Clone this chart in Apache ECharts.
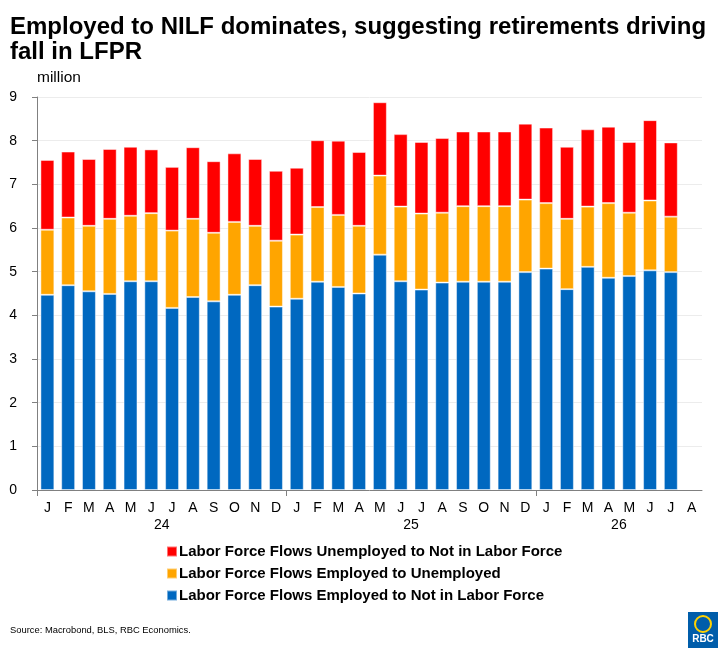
<!doctype html>
<html lang="en">
    <head>
        <meta charset="UTF-8" />
        <title>Labor force flows</title>
        <script src="https://cdn.jsdelivr.net/npm/echarts@6.0.0/dist/echarts.min.js"></script>
        <style>
            body { margin: 0; background: #fff; }
        </style>
    </head>
    <body>
        <!-- Chart container -->
        <div id="main" style="width: 726px; height: 656px"></div>

        <script>
            // Month labels, Jan 2024 .. Aug 2026
            const months = [
                "J", "F", "M", "A", "M", "J", "J", "A", "S", "O", "N", "D",
                "J", "F", "M", "A", "M", "J", "J", "A", "S", "O", "N", "D",
                "J", "F", "M", "A", "M", "J", "J", "A",
            ];
            const yearLabels = ["24", "25", "26"];
            const yearLabelPos = [6, 18, 28];
            const yearBreaks = [0, 12, 24];

            // million (Aug 2026 has no data)
            const empToNilf = [
                4.47, 4.69, 4.55, 4.49, 4.78, 4.78, 4.17, 4.42, 4.32, 4.47, 4.69, 4.20,
                4.38, 4.77, 4.65, 4.50, 5.39, 4.78, 4.59, 4.75, 4.77, 4.77, 4.77, 4.99,
                5.07, 4.60, 5.11, 4.86, 4.90, 5.03, 4.99, null,
            ];
            const empToUnemp = [
                1.49, 1.55, 1.50, 1.72, 1.50, 1.56, 1.77, 1.79, 1.57, 1.67, 1.36, 1.51,
                1.47, 1.71, 1.65, 1.55, 1.81, 1.71, 1.74, 1.60, 1.73, 1.73, 1.73, 1.66,
                1.50, 1.61, 1.38, 1.71, 1.45, 1.60, 1.27, null,
            ];
            const unempToNilf = [
                1.60, 1.51, 1.53, 1.60, 1.58, 1.46, 1.46, 1.64, 1.64, 1.57, 1.53, 1.60,
                1.53, 1.53, 1.70, 1.69, 1.68, 1.66, 1.64, 1.71, 1.71, 1.71, 1.71, 1.74,
                1.73, 1.65, 1.77, 1.75, 1.62, 1.84, 1.70, null,
            ];

            const font = "Arial, 'Liberation Sans', sans-serif";
            const names = [
                "Labor Force Flows Employed to Not in Labor Force",
                "Labor Force Flows Employed to Unemployed",
                "Labor Force Flows Unemployed to Not in Labor Force",
            ];

            const myChart = echarts.init(document.getElementById("main"));

            const barStyle = (color) => ({
                color: color,
                borderColor: "rgba(255,255,255,0.45)",
                borderWidth: 1,
            });

            const options = {
                animation: false,
                textStyle: { fontFamily: font },
                title: {
                    text: "Employed to NILF dominates, suggesting retirements driving\nfall in LFPR",
                    left: 5,
                    top: 10,
                    textStyle: {
                        fontFamily: font,
                        fontSize: 24,
                        fontWeight: "bold",
                        lineHeight: 25,
                        color: "#000",
                    },
                },
                legend: {
                    orient: "vertical",
                    left: 161,
                    top: 538,
                    itemWidth: 10,
                    itemHeight: 10,
                    itemGap: 5,
                    icon: "rect",
                    data: [names[2], names[1], names[0]],
                    textStyle: {
                        fontFamily: font,
                        fontSize: 15,
                        fontWeight: "bold",
                        color: "#000",
                        lineHeight: 17,
                        padding: [0, 0, 0, -3],
                    },
                },
                grid: {
                    left: 37,
                    right: 24,
                    top: 97,
                    bottom: 166,
                    containLabel: false,
                },
                xAxis: [
                    {
                        type: "category",
                        data: months,
                        position: "bottom",
                        axisLine: { lineStyle: { color: "#808080" } },
                        axisTick: { interval: 0, length: 3, lineStyle: { color: "#808080" } },
                        axisLabel: {
                            interval: 0,
                            margin: 11,
                            fontSize: 14,
                            color: "#000",
                        },
                    },
                    {
                        type: "value",
                        min: 0,
                        max: 32,
                        position: "bottom",
                        axisLine: { show: false },
                        splitLine: { show: false },
                        axisTick: {
                            customValues: yearBreaks,
                            length: 6,
                            lineStyle: { color: "#808080" },
                        },
                        axisLabel: {
                            customValues: yearLabelPos,
                            formatter: (v) => yearLabels[yearLabelPos.indexOf(v)] || "",
                            margin: 28,
                            fontSize: 14,
                            color: "#000",
                        },
                    },
                ],
                yAxis: {
                    type: "value",
                    min: 0,
                    max: 9,
                    interval: 1,
                    axisLine: { show: true, lineStyle: { color: "#808080" } },
                    axisTick: { show: true, length: 5, lineStyle: { color: "#808080" } },
                    axisLabel: { margin: 20, fontSize: 14, color: "#000" },
                    splitLine: { lineStyle: { color: "#ececec" } },
                },
                graphic: [
                    {
                        type: "text",
                        left: 37,
                        top: 70,
                        style: { text: "million", font: "15.5px " + font, fill: "#000" },
                    },
                    {
                        type: "text",
                        left: 10,
                        top: 626,
                        style: {
                            text: "Source: Macrobond, BLS, RBC Economics.",
                            font: "9.4px " + font,
                            fill: "#000",
                        },
                    },
                    // RBC logo, roughly
                    {
                        type: "group",
                        left: 688,
                        top: 612,
                        children: [
                            { type: "rect", shape: { x: 0, y: 0, width: 30, height: 36 }, style: { fill: "#005DAA" } },
                            { type: "circle", shape: { cx: 15, cy: 12, r: 8 }, style: { fill: "none", stroke: "#FFD200", lineWidth: 2 } },
                            { type: "text", style: { x: 15, y: 27, text: "RBC", align: "center", verticalAlign: "middle", font: "bold 10px " + font, fill: "#fff" } },
                        ],
                    },
                ],
                series: [
                    {
                        name: names[0],
                        type: "bar",
                        stack: "total",
                        barWidth: "67%",
                        itemStyle: barStyle("#0068C0"),
                        data: empToNilf,
                    },
                    {
                        name: names[1],
                        type: "bar",
                        stack: "total",
                        barWidth: "67%",
                        itemStyle: barStyle("#FFA500"),
                        data: empToUnemp,
                    },
                    {
                        name: names[2],
                        type: "bar",
                        stack: "total",
                        barWidth: "67%",
                        itemStyle: barStyle("#FF0000"),
                        data: unempToNilf,
                    },
                ],
            };

            myChart.setOption(options);
        </script>
    </body>
</html>
